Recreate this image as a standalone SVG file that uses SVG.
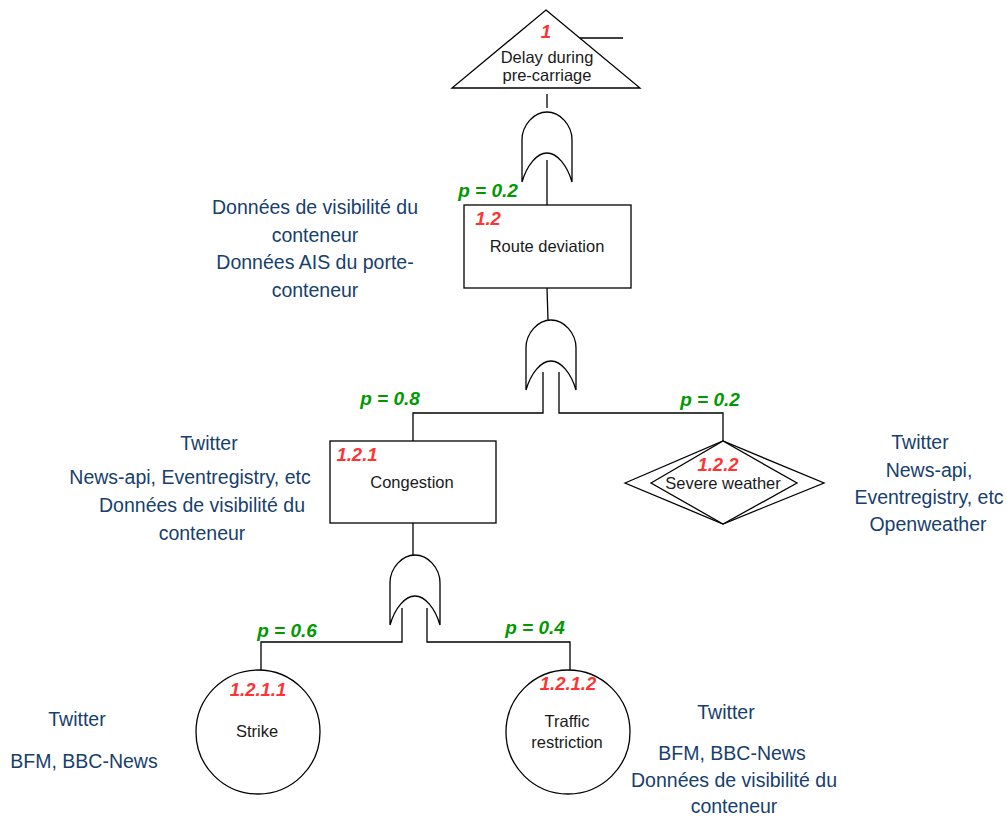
<svg xmlns="http://www.w3.org/2000/svg" width="1007" height="818" viewBox="0 0 1007 818">
<style>
.s{fill:#fff;stroke:#000;stroke-width:1.3}
.c{fill:none;stroke:#000;stroke-width:1.3}
text{font-family:"Liberation Sans",Arial,Helvetica,sans-serif;text-anchor:middle}
.n{font-size:16.5px;fill:#1a1a1a}
.id{font-size:18.5px;font-weight:bold;font-style:italic;fill:#ff3333}
.p{font-size:19px;font-weight:bold;font-style:italic;fill:#009900}
.b{font-size:19.5px;fill:#17406d}
</style>
<defs>
<path id="or" d="M0,28 C0,13 12,0 25,0 C38,0 50,13 50,28 L50,70 C45,53 35,41 25,41 C15,41 5,53 0,70 Z"/>
</defs>
<g id="connectors">
<path class="c" d="M563,38 H623"/>
<path class="c" d="M547,94 V108"/>
<path class="c" d="M547,160 V205"/>
<path class="c" d="M547,288 L548,320"/>
<path class="c" d="M543,372 V413 H413 V441"/>
<path class="c" d="M559,372 V413 H723 V441"/>
<path class="c" d="M413,523 V555"/>
<path class="c" d="M402,608 V642 H261 V670"/>
<path class="c" d="M427,608 V642 H570 V670"/>
</g>
<g id="gate1"><use href="#or" class="s" transform="translate(522,112)"/></g>
<g id="gate2"><use href="#or" class="s" transform="translate(526,320)"/></g>
<g id="gate3"><use href="#or" class="s" transform="translate(390,555)"/></g>
<g id="n1">
<polygon class="s" points="546,10 640,88 452,88"/>
<text class="id" x="546" y="38">1</text>
<text class="n" x="547" y="63">Delay during</text>
<text class="n" x="547" y="81">pre-carriage</text>
</g>
<g id="n12">
<rect class="s" x="464" y="205" width="167" height="83"/>
<text class="id" x="488" y="225">1.2</text>
<text class="n" x="547" y="252">Route deviation</text>
</g>
<g id="n121">
<rect class="s" x="330" y="441" width="166" height="82"/>
<text class="id" x="357" y="461">1.2.1</text>
<text class="n" x="412" y="488">Congestion</text>
</g>
<g id="n122">
<polygon class="s" points="625,483 723,441 824,483 723,524"/>
<polygon class="s" points="651,483 723,441 797,483 723,524"/>
<text class="id" x="718" y="471">1.2.2</text>
<text class="n" x="723" y="489">Severe weather</text>
</g>
<g id="n1211">
<circle class="s" cx="258" cy="732" r="62"/>
<text class="id" x="258" y="696">1.2.1.1</text>
<text class="n" x="257" y="737">Strike</text>
</g>
<g id="n1212">
<circle class="s" cx="568" cy="732" r="62"/>
<text class="id" x="568" y="690">1.2.1.2</text>
<text class="n" x="567" y="727">Traffic</text>
<text class="n" x="567" y="748">restriction</text>
</g>
<g id="probs">
<text class="p" x="488" y="197">p = 0.2</text>
<text class="p" x="390" y="405">p = 0.8</text>
<text class="p" x="710" y="406">p = 0.2</text>
<text class="p" x="287" y="637">p = 0.6</text>
<text class="p" x="535" y="634">p = 0.4</text>
</g>
<g id="src12">
<text class="b" x="315" y="214">Données de visibilité du</text>
<text class="b" x="315" y="242">conteneur</text>
<text class="b" x="315" y="269">Données AIS du porte-</text>
<text class="b" x="315" y="297">conteneur</text>
</g>
<g id="src121">
<text class="b" x="209" y="450">Twitter</text>
<text class="b" x="190" y="484">News-api, Eventregistry, etc</text>
<text class="b" x="202" y="512">Données de visibilité du</text>
<text class="b" x="202" y="540">conteneur</text>
</g>
<g id="src122">
<text class="b" x="920" y="449">Twitter</text>
<text class="b" x="929" y="477">News-api,</text>
<text class="b" x="929" y="504">Eventregistry, etc</text>
<text class="b" x="928" y="531">Openweather</text>
</g>
<g id="src1211">
<text class="b" x="77" y="726">Twitter</text>
<text class="b" x="84" y="768">BFM, BBC-News</text>
</g>
<g id="src1212">
<text class="b" x="726" y="719">Twitter</text>
<text class="b" x="732" y="760">BFM, BBC-News</text>
<text class="b" x="734" y="787">Données de visibilité du</text>
<text class="b" x="734" y="813">conteneur</text>
</g>
</svg>
